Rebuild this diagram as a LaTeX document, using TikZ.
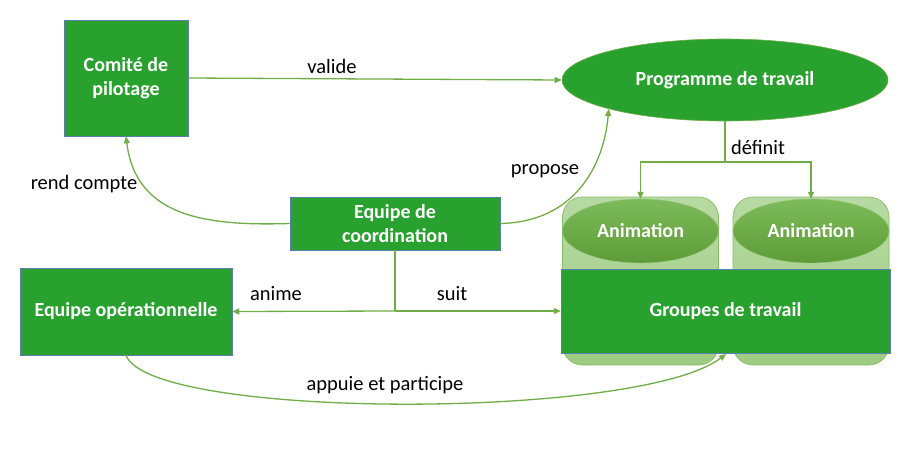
\documentclass[tikz,border=0pt]{standalone}
\usepackage{fontspec}
\setmainfont{Carlito}
\usetikzlibrary{shapes.geometric,arrows.meta}
\definecolor{boxg}{HTML}{28A12F}
\definecolor{lineg}{HTML}{70AD47}
\definecolor{edgeb}{HTML}{5B7FB0}
\definecolor{contTop}{HTML}{B7DAA3}
\definecolor{contBot}{HTML}{9ECC82}
\definecolor{contEdge}{HTML}{86BD66}
\definecolor{animTop}{HTML}{7DBA5A}
\definecolor{animBot}{HTML}{5E9C38}
\begin{document}
\begin{tikzpicture}[x=1pt,y=-1pt,
  gbox/.style={draw=edgeb,line width=0.5pt,fill=boxg,text=white,font=\bfseries\fontsize{20}{24}\selectfont,align=center,inner sep=0pt},
  cont/.style={draw=contEdge,line width=0.7pt,rounded corners=20pt,top color=contTop,bottom color=contBot,minimum width=156pt,minimum height=168pt,inner sep=0pt},
  anim/.style={ellipse,draw=animTop!80!white,line width=0.4pt,top color=animTop,bottom color=animBot,text=white,font=\bfseries\fontsize{20}{24}\selectfont,minimum width=156pt,minimum height=64pt,inner sep=0pt},
  conn/.style={draw=lineg,line width=1.3pt},
  arr/.style={conn,-{Triangle[length=7pt,width=6pt]}},
  lab/.style={font=\fontsize{20.5}{24}\selectfont,text=black,inner sep=0pt}
]
\useasboundingbox (0,0) rectangle (917,455);
% containers
\node[cont] (c1) at (640.5,281) {};
\node[cont] (c2) at (811,281) {};
\node[anim] (anim1) at (640.5,231) {Animation};
\node[anim] (anim2) at (811,231) {Animation};
% boxes
\node[gbox,minimum width=124pt,minimum height=116pt] (comite) at (126,78) {Comité de\\pilotage};
\node[gbox,minimum width=210pt,minimum height=53pt] (coord) at (395,223.5) {Equipe de\\coordination};
\node[gbox,minimum width=212pt,minimum height=87pt] (op) at (126,311.5) {Equipe opérationnelle};
\node[gbox,minimum width=329pt,minimum height=84pt] (groupes) at (725.5,311) {Groupes de travail};
\node[ellipse,fill=boxg,draw=lineg,line width=0.6pt,text=white,font=\bfseries\fontsize{20}{24}\selectfont,minimum width=326pt,minimum height=82pt,inner sep=0pt] (prog) at (725,80) {Programme de travail};
% connectors
\draw[arr] (comite.east) -- (prog.west);
\node[lab] (lvalide) at (332,66) {valide};
\draw[arr] (coord.west) .. controls (208,226) and (136,218) .. (comite.south);
\node[lab] (lrend) at (84,184) {rend compte};
\draw[arr] (coord.east) .. controls (575,222) and (604,165) .. (prog.194);
\node[lab] (lpropose) at (545,171) {propose};
\coordinate (dj) at (725,162);
\draw[conn] (prog.south) -- (dj);
\draw[arr] (dj) -| (anim1.north);
\draw[arr] (dj) -| (anim2.north);
\node[lab] (ldefinit) at (758,147) {définit};
\coordinate (aj) at (395,311);
\draw[conn] (coord.south) -- (aj);
\draw[arr] (aj) -- (op.east);
\draw[arr] (aj) -- (groupes.west);
\node[lab] (lanime) at (276,294) {anime};
\node[lab] (lsuit) at (452,294) {suit};
\coordinate (gb) at (726,354);
\draw[arr] (op.south) .. controls (150,420) and (640,420) .. (gb);
\node[lab] (lappuie) at (385,385) {appuie et participe};
\end{tikzpicture}
\end{document}
